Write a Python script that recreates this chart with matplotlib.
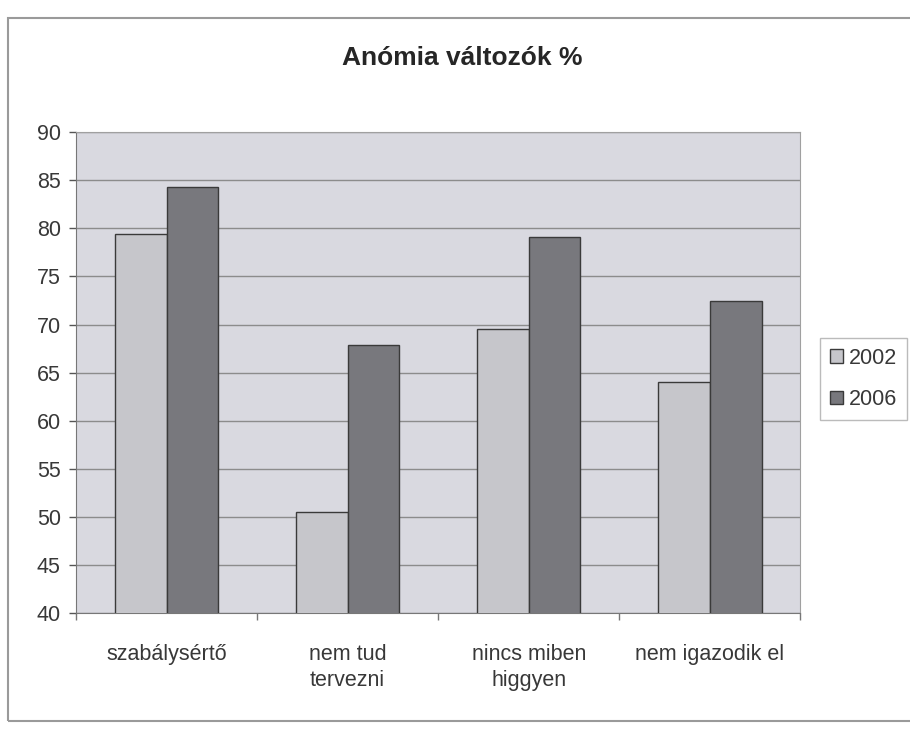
import numpy as np
import matplotlib
matplotlib.use("Agg")
import matplotlib.pyplot as plt
from matplotlib.patches import Rectangle

categories = ["szabálysértő", "nem tud\ntervezni", "nincs miben\nhiggyen", "nem igazodik el"]
series_names = ["2002", "2006"]
values_2002 = [79.4, 50.5, 69.5, 64.0]
values_2006 = [84.3, 67.9, 79.1, 72.4]
yticks = [40, 45, 50, 55, 60, 65, 70, 75, 80, 85, 90]

plt.rcParams["font.family"] = ["Liberation Sans", "DejaVu Sans"]

fig = plt.figure(figsize=(9.1, 7.3), dpi=100)
fig.patch.set_facecolor("white")
# outer chart border
fig.patches.append(Rectangle((0.009, 0.012), 1.2, 0.963, transform=fig.transFigure,
                             fill=False, edgecolor="#9a9a9a", linewidth=1.5))

ax = fig.add_axes([0.0835, 0.160, 0.796, 0.659])
ax.set_facecolor("#d9d9e0")

x = np.arange(len(categories))
w = 1 / 3.5
ax.bar(x - w / 2, values_2002, w, color="#c6c6cb", edgecolor="#3a3a3a", linewidth=1.0,
       label=series_names[0], zorder=3)
ax.bar(x + w / 2, values_2006, w, color="#78787d", edgecolor="#3a3a3a", linewidth=1.0,
       label=series_names[1], zorder=3)

ax.set_xlim(-0.5, len(categories) - 0.5)
ax.set_ylim(40, 90)
ax.set_yticks(yticks)
ax.yaxis.grid(True, color="#8c8c8c", linewidth=1.0, zorder=1)
ax.tick_params(axis="y", labelsize=15.5, colors="#555555", labelcolor="#383838",
               length=5, width=1, pad=6)

# category ticks at boundaries, labels at centers
ax.set_xticks(np.arange(len(categories) + 1) - 0.5)
ax.set_xticklabels([])
ax.set_xticks(x, minor=True)
ax.set_xticklabels(categories, minor=True, fontsize=15.5, color="#383838", linespacing=1.35)
ax.tick_params(axis="x", which="major", length=5, width=1, colors="#777777")
ax.tick_params(axis="x", which="minor", length=0, pad=22)

for side in ["top", "right"]:
    ax.spines[side].set_color("#a0a0a0")
for side in ["left", "bottom"]:
    ax.spines[side].set_color("#777777")

fig.text(0.508, 0.921, "Anómia változók %", ha="center", va="center",
         fontsize=19, fontweight="bold", color="#262626")

leg = fig.legend(loc="center left", bbox_to_anchor=(0.901, 0.481), fontsize=15.5,
                 frameon=True, handlelength=0.6, handleheight=0.6, handletextpad=0.3,
                 labelspacing=0.95, borderpad=0.45, borderaxespad=0.0, fancybox=False)
leg.get_frame().set_edgecolor("#aaaaaa")
leg.get_frame().set_linewidth(1.0)
for t in leg.get_texts():
    t.set_color("#383838")

fig.savefig("out.png", dpi=100)
